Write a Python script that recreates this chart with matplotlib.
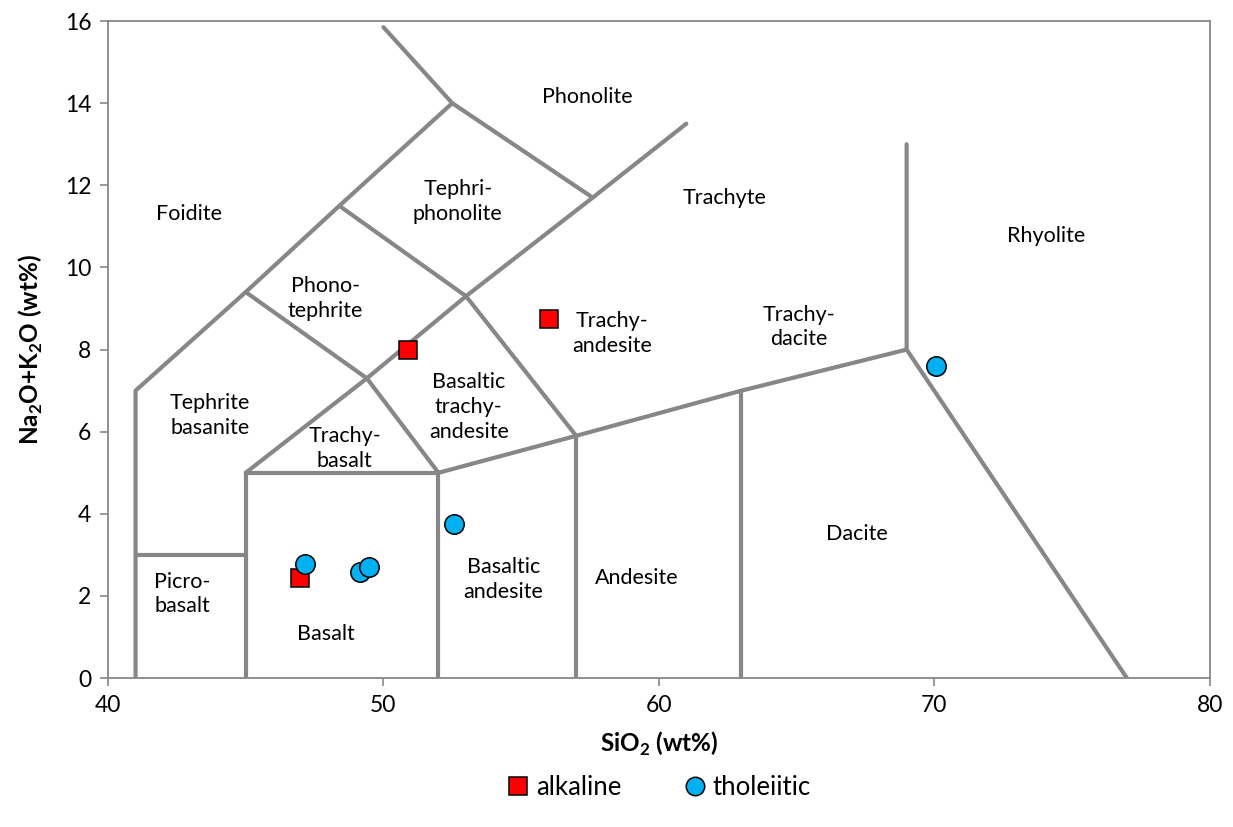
import numpy as np
import matplotlib
matplotlib.use('Agg')
import matplotlib.pyplot as plt

plt.rcParams['font.family'] = ['Lato', 'DejaVu Sans']
plt.rcParams['mathtext.fontset'] = 'custom'
plt.rcParams['mathtext.rm'] = 'Lato'
plt.rcParams['mathtext.bf'] = 'Lato:bold'

# TAS boundary polylines (SiO2, Na2O+K2O)
bound_x = [
    [41, 41, 45, 48.4, 52.5, 50.0],
    [41, 45],
    [45, 45, 52, 52],
    [45, 49.4, 53, 57.6, 61],
    [45, 49.4, 52],
    [48.4, 53, 57],
    [52.5, 57.6],
    [52, 57, 63, 69, 69],
    [57, 57],
    [63, 63],
    [69, 77],
]
bound_y = [
    [0, 7, 9.4, 11.5, 14, 15.85],
    [3, 3],
    [0, 5, 5, 0],
    [5, 7.3, 9.3, 11.7, 13.5],
    [9.4, 7.3, 5],
    [11.5, 9.3, 5.9],
    [14, 11.7],
    [5, 5.9, 7, 8, 13],
    [0, 5.9],
    [0, 7],
    [8, 0],
]

# field names
field_names = ["Foidite", "Phonolite", "Tephri-\nphonolite", "Trachyte", "Rhyolite",
               "Phono-\ntephrite", "Trachy-\nandesite", "Trachy-\ndacite",
               "Tephrite\nbasanite", "Basaltic\ntrachy-\nandesite", "Trachy-\nbasalt",
               "Dacite", "Basaltic\nandesite", "Andesite", "Picro-\nbasalt", "Basalt"]
field_x = [42.94, 57.4, 52.7, 62.4, 74.05, 47.9, 58.3, 65.1, 43.7, 53.1, 48.6,
           67.2, 54.35, 59.2, 42.7, 47.9]
field_y = [11.3, 14.15, 11.6, 11.7, 10.77, 9.25, 8.4, 8.55, 6.4, 6.6, 5.6,
           3.5, 2.4, 2.44, 2.05, 1.07]

# samples
alk_sio2 = [46.97, 50.89, 56.0]
alk_alk = [2.44, 8.0, 8.74]
thol_sio2 = [47.15, 49.15, 49.47, 52.56, 70.05]
thol_alk = [2.78, 2.58, 2.70, 3.75, 7.6]

fig = plt.figure(figsize=(12.33, 8.27), dpi=100)
ax = fig.add_axes([0.0876, 0.180, 0.8934, 0.7946])

grey = '#878787'
for xs, ys in zip(bound_x, bound_y):
    ax.plot(xs, ys, color=grey, lw=3.0, solid_capstyle='round', solid_joinstyle='round', zorder=2)

for name, x, y in zip(field_names, field_x, field_y):
    ax.text(x, y, name, ha='center', va='center', fontsize=15.5, color='black', linespacing=1.3, zorder=3)

ax.plot(alk_sio2, alk_alk, 's', ms=13, mfc='#ff0000', mec='black', mew=1.1, ls='none',
        label='alkaline', zorder=4)
ax.plot(thol_sio2, thol_alk, 'o', ms=14, mfc='#00b0f0', mec='black', mew=1.1, ls='none',
        label='tholeiitic', zorder=5)

ax.set_xlim(40, 80)
ax.set_ylim(0, 16)
ax.set_xticks(np.arange(40, 81, 10))
ax.set_yticks(np.arange(0, 17, 2))
ax.tick_params(direction='out', length=6, width=1.2, color=grey, labelsize=16.5, pad=6)
for s in ax.spines.values():
    s.set_color(grey)
    s.set_linewidth(1.3)

ax.set_xlabel('SiO$_\\mathbf{2}$ (wt%)', fontsize=17.5, fontweight='bold', labelpad=10)
ax.set_ylabel('Na$_\\mathbf{2}$O+K$_\\mathbf{2}$O (wt%)', fontsize=17.5, fontweight='bold', labelpad=14)

ax.legend(loc='upper center', bbox_to_anchor=(0.5, -0.112), ncol=2, frameon=False,
          fontsize=18.5, handlelength=0.9, handletextpad=0.25, columnspacing=2.4,
          markerscale=0.95)

fig.savefig('out.png', dpi=100)
